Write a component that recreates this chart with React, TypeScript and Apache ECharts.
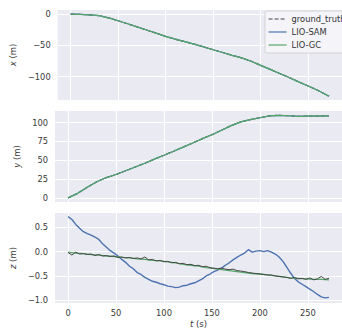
import { useEffect, useRef } from "react";
import * as echarts from "echarts";

// time stamps (s) for the x / y panels
const tXY = [0, 10, 20, 30, 40, 50, 60, 70, 80, 90, 100, 110, 120, 130, 140, 150, 160, 170, 180, 190, 200, 210, 220, 230, 240, 250, 260, 270, 272];
// x position (m)
const xPos = [0, -0.5, -1.2, -2.5, -6, -10.7, -15.5, -20.5, -25.5, -30.5, -35.7, -40, -44, -48, -52.5, -57, -61.5, -66, -70, -75.5, -82, -88.5, -95, -101.5, -108.5, -115, -122, -130, -131];
// y position (m)
const yPos = [0, 6, 14, 21.5, 27, 31, 36, 41, 46, 51.5, 56.7, 62, 67.5, 73, 78.7, 84, 90, 96, 101, 104, 106.5, 109, 109.7, 109.2, 108.3, 108.8, 108.8, 109, 109];

// z panel
const tZ = [0, 4, 8, 12, 16, 20, 24, 28, 32, 36, 40, 44, 48, 52, 56, 60, 64, 68, 72, 76, 80, 84, 88, 92, 96, 100, 104, 108, 112, 116, 120, 124, 128, 132, 136, 140, 144, 148, 152, 156, 160, 164, 168, 172, 176, 180, 184, 188, 192, 196, 200, 204, 208, 212, 216, 220, 224, 228, 232, 236, 240, 244, 248, 252, 256, 260, 264, 268, 272];
const zSAM = [0.72, 0.66, 0.56, 0.48, 0.41, 0.37, 0.34, 0.30, 0.25, 0.16, 0.09, 0.02, -0.03, -0.09, -0.16, -0.22, -0.30, -0.35, -0.43, -0.47, -0.53, -0.57, -0.61, -0.63, -0.66, -0.68, -0.71, -0.72, -0.74, -0.73, -0.70, -0.69, -0.66, -0.64, -0.60, -0.56, -0.50, -0.46, -0.41, -0.38, -0.34, -0.28, -0.23, -0.17, -0.12, -0.07, -0.03, 0.04, -0.01, 0.01, 0.02, 0.00, 0.02, -0.01, -0.05, -0.11, -0.20, -0.32, -0.44, -0.55, -0.62, -0.67, -0.72, -0.77, -0.82, -0.88, -0.93, -0.95, -0.94];
const zGT = [-0.02, -0.07, -0.01, -0.05, -0.04, -0.06, -0.05, -0.08, -0.06, -0.09, -0.08, -0.10, -0.09, -0.12, -0.11, -0.13, -0.12, -0.14, -0.13, -0.15, -0.11, -0.17, -0.16, -0.19, -0.18, -0.21, -0.20, -0.23, -0.22, -0.25, -0.24, -0.27, -0.26, -0.29, -0.28, -0.31, -0.30, -0.33, -0.34, -0.35, -0.34, -0.36, -0.37, -0.36, -0.39, -0.40, -0.41, -0.43, -0.44, -0.45, -0.46, -0.47, -0.48, -0.48, -0.50, -0.51, -0.52, -0.53, -0.55, -0.53, -0.56, -0.55, -0.57, -0.54, -0.58, -0.56, -0.51, -0.57, -0.55];
const tZgc = [0, 8, 16, 24, 32, 40, 48, 56, 64, 72, 80, 88, 96, 104, 112, 120, 128, 136, 144, 152, 160, 168, 176, 184, 192, 200, 208, 216, 224, 232, 240, 248, 256, 264, 272];
const zGC = [-0.01, -0.03, -0.04, -0.06, -0.07, -0.09, -0.10, -0.12, -0.13, -0.15, -0.16, -0.18, -0.19, -0.21, -0.23, -0.26, -0.28, -0.30, -0.33, -0.35, -0.37, -0.39, -0.41, -0.43, -0.45, -0.46, -0.48, -0.50, -0.52, -0.54, -0.55, -0.56, -0.57, -0.57, -0.58];

// tick labels
const tTicks = [0, 50, 100, 150, 200, 250];
const xTicks = [-100, -50, 0];
const yTicks = [0, 25, 50, 75, 100];
const zTicks = [-1.0, -0.5, 0.0, 0.5];

const seriesNames = ["ground_truth", "LIO-SAM", "LIO-GC"];

const BLUE = "#4C72B0";
const GREEN = "#55A868";
const GRAY = "#474747";
const FONT = "DejaVu Sans";

const pairs = (t: number[], v: number[]) => t.map((ti, i) => [ti, v[i]]);
const fmtMinus = (digits: number) => (v: number) =>
  (v < 0 ? "\u2212" : "") + Math.abs(v).toFixed(digits);

export default function App() {
  const ref = useRef<HTMLDivElement>(null);

  useEffect(() => {
    if (!ref.current) return;
    const chart = echarts.init(ref.current, undefined, { renderer: "svg" });

    const grids = [
      { top: 10, height: 90 },
      { top: 111, height: 91 },
      { top: 213, height: 90 },
    ].map((g) => ({
      left: 55,
      width: 300,
      top: g.top,
      height: g.height,
      show: true,
      backgroundColor: "#EAEAF2",
      borderWidth: 0,
    }));

    const labelStyle = { fontFamily: FONT, fontSize: 8.3, color: "#3a3a3a" };

    const xAxes = [0, 1, 2].map((i) => ({
      type: "value",
      gridIndex: i,
      min: -13.6,
      max: 285.6,
      axisLine: { show: false },
      axisTick: { show: false, customValues: tTicks },
      axisLabel: {
        show: i === 2,
        customValues: tTicks,
        margin: 6,
        ...labelStyle,
      },
      splitLine: { show: true, lineStyle: { color: "#ffffff", width: 1 } },
      name: i === 2 ? "{i|t} (s)" : "",
      nameLocation: "middle",
      nameGap: 16,
      nameTextStyle: {
        fontFamily: FONT,
        fontSize: 8.5,
        color: "#3a3a3a",
        rich: { i: { fontStyle: "italic", fontFamily: FONT, fontSize: 8.5, color: "#3a3a3a" } },
      },
    }));

    const yCfg = [
      { min: -137.5, max: 6.55, ticks: xTicks, fmt: fmtMinus(0), name: "{i|x} (m)" },
      { min: -5.5, max: 115.5, ticks: yTicks, fmt: fmtMinus(0), name: "{i|y} (m)" },
      { min: -1.056, max: 0.794, ticks: zTicks, fmt: fmtMinus(1), name: "{i|z} (m)" },
    ];
    const yAxes = yCfg.map((c, i) => ({
      type: "value",
      gridIndex: i,
      min: c.min,
      max: c.max,
      axisLine: { show: false },
      axisTick: { show: false, customValues: c.ticks },
      axisLabel: { customValues: c.ticks, formatter: c.fmt, margin: 7, ...labelStyle },
      splitLine: { show: true, lineStyle: { color: "#ffffff", width: 1 } },
      name: c.name,
      nameLocation: "middle",
      nameGap: 34,
      nameRotate: 90,
      nameTextStyle: {
        fontFamily: FONT,
        fontSize: 8.5,
        color: "#3a3a3a",
        rich: { i: { fontStyle: "italic", fontFamily: FONT, fontSize: 8.5, color: "#3a3a3a" } },
      },
    }));

    const mk = (name: string, idx: number, data: number[][], color: string, dashed: boolean, width = 1.2) => ({
      name,
      type: "line",
      xAxisIndex: idx,
      yAxisIndex: idx,
      data,
      symbol: "none",
      showSymbol: false,
      lineStyle: { color, width, type: dashed ? [4, 2] : "solid" },
      itemStyle: { color },
      emphasis: { disabled: true },
    });

    const series = [
      mk(seriesNames[0], 0, pairs(tXY, xPos), GRAY, true),
      mk(seriesNames[1], 0, pairs(tXY, xPos), BLUE, false),
      mk(seriesNames[2], 0, pairs(tXY, xPos), GREEN, false),
      mk(seriesNames[0], 1, pairs(tXY, yPos), GRAY, true),
      mk(seriesNames[1], 1, pairs(tXY, yPos), BLUE, false),
      mk(seriesNames[2], 1, pairs(tXY, yPos), GREEN, false),
      mk(seriesNames[1], 2, pairs(tZ, zSAM), BLUE, false, 1.4),
      mk(seriesNames[2], 2, pairs(tZgc, zGC), GREEN, false, 1.3),
      mk(seriesNames[0], 2, pairs(tZ, zGT), GRAY, false, 1.0),
    ];

    chart.setOption({
      animation: false,
      grid: grids,
      xAxis: xAxes,
      yAxis: yAxes,
      legend: {
        data: seriesNames.map((n, i) => ({
          name: n,
          itemStyle: { opacity: 0 },
          lineStyle: { color: [GRAY, BLUE, GREEN][i], width: 1.2, type: i === 0 ? [4, 2] : "solid" },
        })),
        orient: "vertical",
        left: 265,
        top: 11,
        padding: [4, 20, 4, 3],
        itemWidth: 18,
        itemHeight: 8,
        itemGap: 5,
        backgroundColor: "rgba(245,245,249,0.9)",
        borderColor: "#d2d2d8",
        borderWidth: 1,
        borderRadius: 2,
        textStyle: { fontFamily: FONT, fontSize: 8.3, color: "#333" },
        selectedMode: false,
      },
      series,
    });

    return () => chart.dispose();
  }, []);

  return (
    <div
      ref={ref}
      style={{ position: "absolute", left: 0, top: 0, width: 342, height: 330 }}
    />
  );
}
